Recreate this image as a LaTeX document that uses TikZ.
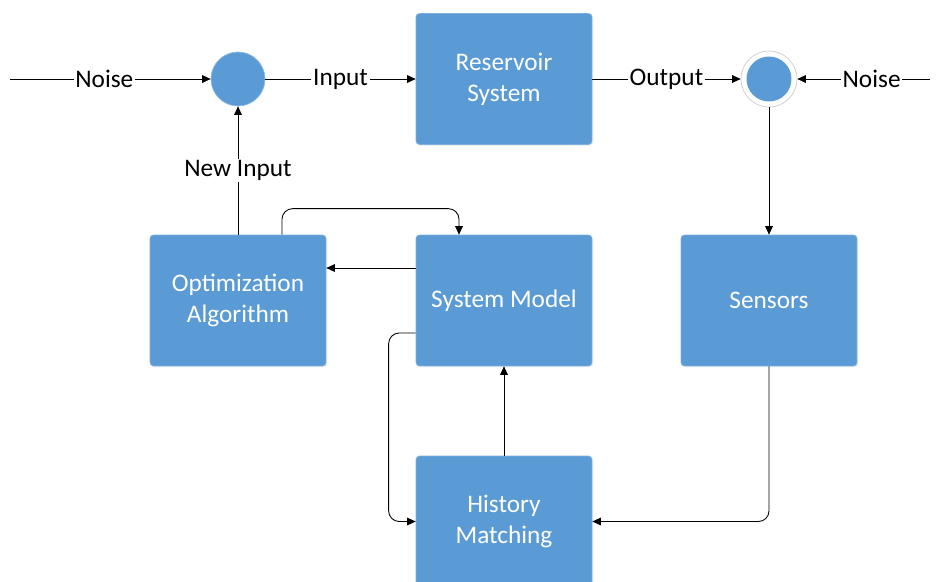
\documentclass[tikz,border=0pt]{standalone}
\usepackage{fontspec}
\setmainfont{Carlito}
\usetikzlibrary{arrows.meta}
\usetikzlibrary{calc}
\usetikzlibrary{shadows}
\definecolor{boxblue}{RGB}{91,155,213}

\begin{document}
\begin{tikzpicture}[x=0.02cm, y=-0.02cm,
    every node/.style={font=\fontsize{14.4}{17.6}\selectfont},
    blk/.style={fill=boxblue, draw=boxblue!80!white, rounded corners=2pt, text=white, align=center,
        minimum width=3.52cm, minimum height=2.62cm,
        drop shadow={opacity=0.12, shadow xshift=0.8pt, shadow yshift=-0.8pt}},
    sumin/.style={circle, fill=boxblue, draw=boxblue!70!white, minimum size=1.08cm, inner sep=0pt},
    sumout/.style={circle, fill=white, draw=black!20, minimum size=1.12cm, inner sep=0pt},
    conn/.style={draw=black, line width=0.5pt, -{Triangle[length=4.8pt,width=4.3pt]}},
    lbl/.style={fill=white, inner sep=1pt, text=black}]

    \useasboundingbox (0,0) rectangle (938,582);

    % blocks
    \node[blk] (res) at (504,79) {Reservoir\\System};
    \node[blk] (opt) at (238,300.5) {Optimization\\Algorithm};
    \node[blk] (model) at (504,300.5) {System Model};
    \node[blk] (sens) at (769,300.5) {Sensors};
    \node[blk] (hist) at (504,521.5) {History\\Matching};

    % summing points
    \node[sumin] (sin) at (238,79) {};
    \node[sumout] (sout) at (769,79) {};
    \fill[boxblue] (sout.center) circle[radius=0.45cm];

    \coordinate (nzl) at (10,79);
    \coordinate (nzr) at (930,79);

    \draw[conn] (nzl) -- node[lbl, pos=0.47] {Noise} (sin);
    \draw[conn] (sin) -- node[lbl] {Input} (res);
    \draw[conn] (res) -- node[lbl] {Output} (sout);
    \draw[conn] (nzr) -- node[lbl, pos=0.44] {Noise} (sout);
    \draw[conn] (sout) -- (sens);
    \draw[conn, rounded corners=6pt] (sens.south) |- (hist.east);
    \draw[conn] (hist) -- (model);
    \draw[conn] ($(model.west)+(0,-32.5)$) -- ($(opt.east)+(0,-32.5)$);
    \draw[conn, rounded corners=6pt] ($(opt.north)+(44,0)$) -- ++(0,-26) -| ($(model.north)+(-45,0)$);
    \draw[conn, rounded corners=6pt] ($(model.west)+(0,32.5)$) -- ++(-27,0) |- (hist.west);
    \draw[conn] (opt) -- node[lbl] {New Input} (sin);

\end{tikzpicture}
\end{document}
